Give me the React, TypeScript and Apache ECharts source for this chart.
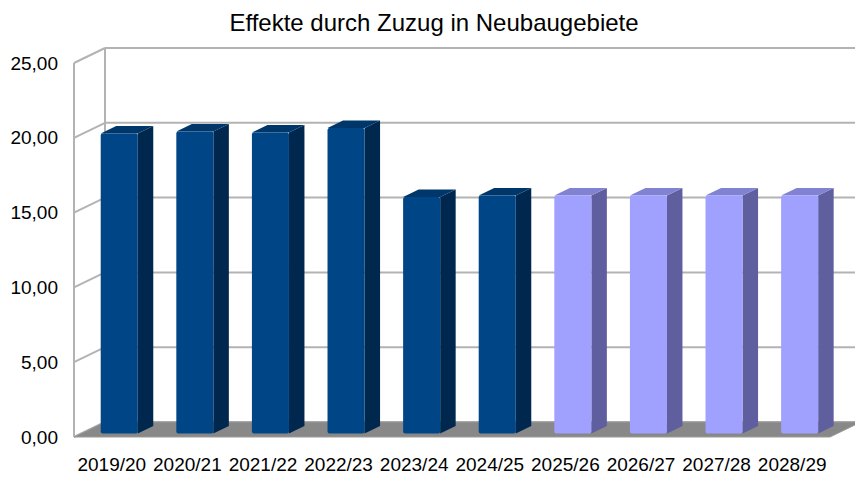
import React, { useEffect, useRef } from "react";
import * as echarts from "echarts";

const title = "Effekte durch Zuzug in Neubaugebiete";
const categories = ["2019/20", "2020/21", "2021/22", "2022/23", "2023/24", "2024/25", "2025/26", "2026/27", "2027/28", "2028/29"];
const values = [20.05, 20.18, 20.12, 20.42, 15.8, 15.9, 15.9, 15.9, 15.9, 15.9];
const forecastFrom = 6; // first index drawn in the light (forecast) colour
const yTicks = [0, 5, 10, 15, 20, 25];

const DX = 31;
const DY = -15;
const BAR_F0 = 0.24;
const BAR_DEPTH = 0.5;
const BAR_W = 0.49;

const DARK = { front: "#004586", side: "#00284f", top: "#00376b" };
const LIGHT = { front: "#a0a0ff", side: "#5f5f9f", top: "#8282d2" };
const LINE = "#b3b3b3";
const FONT = "Liberation Sans";

export default function App() {
  const ref = useRef<HTMLDivElement>(null);
  useEffect(() => {
    if (!ref.current) return;
    const chart = echarts.init(ref.current, null, { renderer: "svg" });
    const option: any = {
      animation: false,
      backgroundColor: "#ffffff",
      title: {
        text: title,
        left: 429,
        textAlign: "center",
        top: 5,
        textStyle: { fontFamily: FONT, fontSize: 24, fontWeight: "normal", color: "#000" },
      },
      grid: { left: 74, top: 63, width: 756, height: 374 },
      xAxis: {
        type: "category",
        data: categories,
        axisLine: { show: false },
        axisTick: { show: false },
        splitLine: { show: false },
        axisLabel: { interval: 0, margin: 18, fontFamily: FONT, fontSize: 19, color: "#000" },
      },
      yAxis: {
        type: "value",
        min: 0,
        max: 25,
        interval: 5,
        axisLine: { show: false },
        axisTick: { show: false },
        splitLine: { show: false },
        axisLabel: {
          margin: 16,
          fontFamily: FONT,
          fontSize: 19,
          color: "#000",
          formatter: (v: number) => v.toFixed(2).replace(".", ","),
        },
      },
      series: [
        {
          type: "custom",
          z: 1,
          silent: true,
          data: [[0, 0]],
          renderItem: (params: any, api: any) => {
            const cs = params.coordSys;
            const x0 = cs.x;
            const W = cs.width;
            const children: any[] = [];
            const y0 = api.coord([0, 0])[1];
            const yTop = api.coord([0, yTicks[yTicks.length - 1]])[1];
            yTicks.forEach((t) => {
              const y = api.coord([0, t])[1];
              children.push({
                type: "line",
                shape: { x1: x0 + DX, y1: y + DY, x2: x0 + W + DX, y2: y + DY },
                style: { stroke: LINE, lineWidth: 2 },
              });
              children.push({
                type: "line",
                shape: { x1: x0, y1: y, x2: x0 + DX, y2: y + DY },
                style: { stroke: LINE, lineWidth: 2 },
              });
            });
            children.push({
              type: "line",
              shape: { x1: x0, y1: yTop, x2: x0, y2: y0 },
              style: { stroke: LINE, lineWidth: 2 },
            });
            children.push({
              type: "line",
              shape: { x1: x0 + DX, y1: yTop + DY, x2: x0 + DX, y2: y0 + DY },
              style: { stroke: LINE, lineWidth: 2 },
            });
            children.push({
              type: "polygon",
              shape: {
                points: [
                  [x0, y0],
                  [x0 + W, y0],
                  [x0 + W + DX, y0 + DY],
                  [x0 + DX, y0 + DY],
                ],
              },
              style: { fill: "#888888", stroke: "#9a9a9a", lineWidth: 1 },
            });
            return { type: "group", children };
          },
        },
        {
          type: "custom",
          z: 2,
          data: values.map((v, i) => [i, v]),
          renderItem: (params: any, api: any) => {
            const idx = api.value(0);
            const v = api.value(1);
            const c = idx >= forecastFrom ? LIGHT : DARK;
            const band = api.size([1, 0])[0];
            const top = api.coord([idx, v]);
            const bot = api.coord([idx, 0]);
            const w = band * BAR_W;
            const fx = top[0] - w / 2 + BAR_F0 * DX;
            const fyT = top[1] + BAR_F0 * DY;
            const fyB = bot[1] + BAR_F0 * DY;
            const ddx = BAR_DEPTH * DX;
            const ddy = BAR_DEPTH * DY;
            const x1 = fx + w;
            return {
              type: "group",
              children: [
                {
                  type: "polygon",
                  shape: { points: [[x1, fyT], [x1 + ddx, fyT + ddy], [x1 + ddx, fyB + ddy], [x1, fyB]] },
                  style: { fill: c.side },
                },
                {
                  type: "polygon",
                  shape: { points: [[fx, fyT], [x1, fyT], [x1 + ddx, fyT + ddy], [fx + ddx, fyT + ddy]] },
                  style: { fill: c.top },
                },
                {
                  type: "rect",
                  shape: { x: fx, y: fyT, width: w, height: fyB - fyT, r: 2 },
                  style: { fill: c.front },
                },
              ],
            };
          },
        },
      ],
    };
    chart.setOption(option);
    return () => chart.dispose();
  }, []);
  return <div ref={ref} style={{ position: "fixed", left: 0, top: 0, width: 855, height: 477 }} />;
}
